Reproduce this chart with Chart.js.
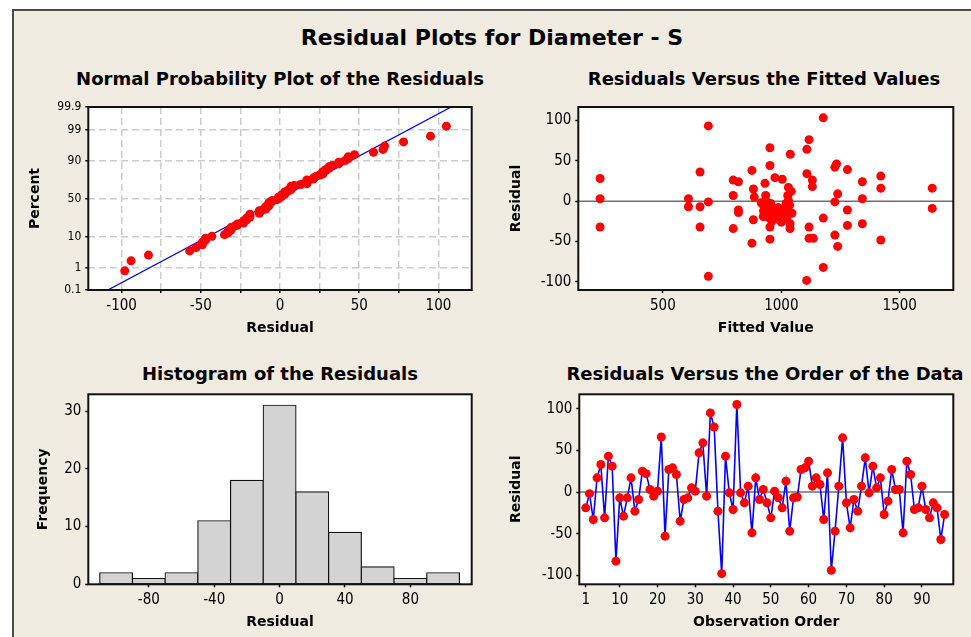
<!DOCTYPE html>
<html>
<head>
<meta charset="utf-8">
<script src="https://cdn.jsdelivr.net/npm/chart.js@4/dist/chart.umd.min.js"></script>
<style>
  body { margin:0; background:#fff; width:971px; height:637px; overflow:hidden; position:relative; }
  #frame { position:absolute; left:12px; top:9px; width:959px; height:628px; background:#efebe1;
           border-left:2px solid #4a4a4a; border-top:2px solid #4a4a4a; box-sizing:border-box; }
  #title { position:absolute; left:0; width:984px; top:23px; text-align:center;
           font:bold 22px 'DejaVu Sans', sans-serif; line-height:30px; color:#000; }
  .head { position:absolute; width:520px; text-align:center; white-space:nowrap;
          font:bold 18px 'DejaVu Sans', sans-serif; line-height:22px; color:#000; }
  canvas { position:absolute; }
</style>
</head>
<body>
<div id="frame"></div>
<div id="title">Residual Plots for Diameter - S</div>
<div class="head" style="left:20px;top:68px">Normal Probability Plot of the Residuals</div>
<div class="head" style="left:504px;top:68px">Residuals Versus the Fitted Values</div>
<div class="head" style="left:20px;top:363px">Histogram of the Residuals</div>
<div class="head" style="left:505px;top:363px">Residuals Versus the Order of the Data</div>
<canvas id="prob" style="left:0;top:55px" width="490" height="290"></canvas>
<canvas id="fits" style="left:490px;top:55px" width="481" height="290"></canvas>
<canvas id="hist" style="left:0;top:345px" width="490" height="292"></canvas>
<canvas id="order" style="left:490px;top:345px" width="481" height="292"></canvas>
<script>
// residuals in observation order
const residuals = [-19, -2, -33, 17, 33, -31, 43, 31, -83, -7,
  -29, -7, 17, -23, -9, 25, 22, 3, -5, 1,
  66, -53, 27, 29, 21, -35, -9, -7, 5, 1,
  47, 59, -5, 95, 78, -23, -98, 43, -1, -21,
  105, -1, -13, 7, -49, 17, -9, 3, -13, -31,
  1, -7, -19, 13, -47, -7, -6, 27, 29, 37,
  7, 17, 9, -33, 23, -94, -47, 7, 65, -13,
  -43, -9, -23, 7, 41, -1, 31, 5, 17, -27,
  -11, 27, 3, 3, -49, 37, 21, -21, -19, 7,
  -21, -31, -13, -19, -57, -27];

// versus fits panel, read point by point
const fittedValues = [235, 235, 235, 608, 608, 657, 657, 657, 692, 692, 692,
  797, 819, 797, 819, 819, 797, 876, 882, 886, 882, 876,
  952, 952, 1038, 973, 1004, 931, 1030, 1027, 1030, 934, 934, 924, 938, 945, 966, 987, 1016, 1027,
  924, 945, 973, 1002, 1023, 1037, 1037, 952, 952,
  1177, 1117, 1108, 1108, 1131, 1131, 1117, 1117, 1135, 1177, 1177, 1107,
  1233, 1226, 1238, 1226, 1226, 1238, 1279, 1279, 1279, 1342, 1342, 1342,
  1420, 1420, 1420, 1637, 1637,
  915, 1045, 1042, 1020, 995, 960, 985, 940, 1000, 1035, 925, 955, 1012, 970];
const fittedResiduals = [28, 3, -32, 3, -7, 36, -7, -32, 93, -1, -93,
  26, 24, 7, -11, -14, -34, 38, 15, 5, -23, -52,
  66, 44, 58, 29, 27, 22, 17, 7, 1, 7, 1, -5, -8, -13, -9, -8, -8, -12,
  -19, -20, -20, -17, -21, -28, -34, -32, -47,
  103, 76, 64, 34, 26, 18, -32, -46, -46, -21, -82, -98,
  46, 42, 9, -1, -42, -56, 39, -11, -30, 24, 3, -28,
  31, 16, -48, 16, -9,
  -2, -15, 12, -3, -14, -25, -22, -2, -26, -5, -12, -3, -20, -14];

const histCenters = [-100, -80, -60, -40, -20, 0, 20, 40, 60, 80, 100];
const histCounts = [2, 1, 2, 11, 18, 31, 16, 9, 3, 1, 2];

const probTicks = [0.1, 1, 10, 50, 90, 99, 99.9];
const probResidTicks = [-100, -75, -50, -25, 0, 25, 50, 75, 100];
const residTicks = [-100, -50, 0, 50, 100];
const fittedTicks = [500, 1000, 1500];
const histTicks = [-80, -40, 0, 40, 80];
const freqTicks = [0, 10, 20, 30];
const orderTicks = [1, 10, 20, 30, 40, 50, 60, 70, 80, 90];

// inverse normal cdf (Acklam)
function normInv(p) {
  const a = [-3.969683028665376e+01, 2.209460984245205e+02, -2.759285104469687e+02, 1.383577518672690e+02, -3.066479806614716e+01, 2.506628277459239e+00];
  const b = [-5.447609879822406e+01, 1.615858368580409e+02, -1.556989798598866e+02, 6.680131188771972e+01, -1.328068155288572e+01];
  const c = [-7.784894002430293e-03, -3.223964580411365e-01, -2.400758277161838e+00, -2.549732539343734e+00, 4.374664141464968e+00, 2.938163982698783e+00];
  const d = [7.784695709041462e-03, 3.224671290700398e-01, 2.445134137142996e+00, 3.754408661907416e+00];
  let q, r;
  if (p < 0.02425) {
    q = Math.sqrt(-2 * Math.log(p));
    return (((((c[0]*q+c[1])*q+c[2])*q+c[3])*q+c[4])*q+c[5]) / ((((d[0]*q+d[1])*q+d[2])*q+d[3])*q+1);
  }
  if (p > 1 - 0.02425) {
    q = Math.sqrt(-2 * Math.log(1 - p));
    return -(((((c[0]*q+c[1])*q+c[2])*q+c[3])*q+c[4])*q+c[5]) / ((((d[0]*q+d[1])*q+d[2])*q+d[3])*q+1);
  }
  q = p - 0.5; r = q * q;
  return (((((a[0]*r+a[1])*r+a[2])*r+a[3])*r+a[4])*r+a[5])*q / (((((b[0]*r+b[1])*r+b[2])*r+b[3])*r+b[4])*r+1);
}

const n = residuals.length;
const sorted = residuals.slice().sort((a, b) => a - b);
const probPoints = sorted.map((r, i) => ({x: r, y: normInv((i + 1 - 0.3) / (n + 0.4))}));
const mean = residuals.reduce((s, v) => s + v, 0) / n;
const sd = Math.sqrt(residuals.reduce((s, v) => s + (v - mean) ** 2, 0) / (n - 1));
const zLo = normInv(0.001), zHi = normInv(0.999);

const RED = '#ff0000', BLUE = '#0000ff';
const tickFont = {family: "'DejaVu Sans Condensed', 'DejaVu Sans', sans-serif", size: 15};
const labelFont = {family: "'DejaVu Sans', sans-serif", size: 14, weight: 'bold'};

// white plot area + black box
const framePlugin = {
  id: 'frame',
  beforeDraw(chart) {
    const a = chart.chartArea, ctx = chart.ctx;
    ctx.save();
    ctx.fillStyle = '#fff';
    ctx.fillRect(a.left, a.top, a.right - a.left, a.bottom - a.top);
    ctx.restore();
  },
  afterDraw(chart) {
    const a = chart.chartArea, ctx = chart.ctx;
    ctx.save();
    ctx.strokeStyle = '#111';
    ctx.lineWidth = 2;
    ctx.strokeRect(a.left, a.top, a.right - a.left, a.bottom - a.top);
    ctx.restore();
  }
};

function plainGrid() {
  return {drawOnChartArea: false, drawTicks: true, tickLength: 3, tickColor: '#000', tickWidth: 1.5, offset: false};
}

function xAxis(min, max, ticks, title, height, padBottom) {
  return {
    type: 'linear', min: min, max: max, offset: false,
    afterBuildTicks: s => { s.ticks = ticks.map(v => ({value: v})); },
    afterFit: s => { s.height = height; },
    ticks: {font: tickFont, color: '#000', padding: 4, autoSkip: false, maxRotation: 0, minRotation: 0,
            callback: v => String(v)},
    grid: plainGrid(),
    border: {display: false},
    title: {display: true, text: title, font: labelFont, color: '#000', padding: {top: 0, bottom: padBottom}}
  };
}

function yAxis(min, max, ticks, title, width, padTop) {
  return {
    type: 'linear', min: min, max: max,
    afterBuildTicks: s => { s.ticks = ticks.map(v => ({value: v})); },
    afterFit: s => { s.width = width; },
    ticks: {font: tickFont, color: '#000', padding: 4, autoSkip: false, callback: v => String(v)},
    grid: plainGrid(),
    border: {display: false},
    title: {display: true, text: title, font: labelFont, color: '#000', padding: {top: padTop, bottom: 0}}
  };
}

function baseOptions(topPad, rightPad, scales) {
  return {
    responsive: false,
    animation: false,
    layout: {padding: {left: 0, right: rightPad, top: topPad, bottom: 0}},
    plugins: {legend: {display: false}, tooltip: {enabled: false}},
    scales: scales
  };
}

// normal probability plot
const probX = xAxis(-121, 121, probResidTicks, 'Residual', 55, 8.3);
probX.ticks.callback = v => (v % 50 === 0 ? String(v) : '');
probX.grid = {drawOnChartArea: true, color: '#cccccc', lineWidth: 1.5, drawTicks: true, tickLength: 3,
              tickColor: '#000', tickWidth: 1.5, offset: false};
probX.border = {display: false, dash: [7, 4]};
const probY = yAxis(zLo, zHi, probTicks.map(p => normInv(p / 100)), 'Percent', 88.3, 26.6);
probY.ticks.font = {family: tickFont.family, size: 12};
probY.ticks.callback = (v, i) => String(probTicks[i]);
probY.grid = {drawOnChartArea: true, color: '#cccccc', lineWidth: 1.5, drawTicks: true, tickLength: 3,
              tickColor: '#000', tickWidth: 1.5};
probY.border = {display: false, dash: [7, 4]};

new Chart(document.getElementById('prob'), {
  type: 'scatter',
  data: {datasets: [
    {data: probPoints, pointRadius: 4.5, pointBackgroundColor: RED, pointBorderWidth: 0},
    {data: [{x: mean + sd * zLo, y: zLo}, {x: mean + sd * zHi, y: zHi}], showLine: true,
     borderColor: BLUE, borderWidth: 1.3, pointRadius: 0}
  ]},
  options: baseOptions(52, 18.3, {x: probX, y: probY}),
  plugins: [framePlugin]
});

// versus fits
new Chart(document.getElementById('fits'), {
  type: 'scatter',
  data: {datasets: [
    {data: fittedValues.map((f, i) => ({x: f, y: fittedResiduals[i]})),
     pointRadius: 4.5, pointBackgroundColor: RED, pointBorderWidth: 0},
    {data: [{x: 143, y: 0}, {x: 1726, y: 0}], showLine: true, borderColor: '#6e6e6e', borderWidth: 1.5, pointRadius: 0}
  ]},
  options: baseOptions(52, 17.7, {
    x: xAxis(143, 1726, fittedTicks, 'Fitted Value', 55, 8.3),
    y: yAxis(-109.9, 116.4, residTicks, 'Residual', 88.3, 18.3)
  }),
  plugins: [framePlugin]
});

// histogram
new Chart(document.getElementById('hist'), {
  type: 'bar',
  data: {datasets: [{
    data: histCenters.map((c, i) => ({x: c, y: histCounts[i]})),
    backgroundColor: '#d3d3d3', borderColor: '#111', borderWidth: 1.2, borderSkipped: false,
    inflateAmount: 0.6, barPercentage: 1, categoryPercentage: 1
  }]},
  options: baseOptions(49.3, 18.3, {
    x: xAxis(-117, 117.5, histTicks, 'Residual', 52.7, 5.9),
    y: yAxis(0, 32.9, freqTicks, 'Frequency', 88.3, 34.9)
  }),
  plugins: [framePlugin]
});

// versus order
new Chart(document.getElementById('order'), {
  type: 'scatter',
  data: {datasets: [
    {data: residuals.map((r, i) => ({x: i + 1, y: r})), showLine: true, borderColor: BLUE, borderWidth: 1.6,
     pointRadius: 4.5, pointBackgroundColor: RED, pointBorderWidth: 0},
    {data: [{x: -0.7, y: 0}, {x: 98.3, y: 0}], showLine: true, borderColor: '#6e6e6e', borderWidth: 1.5, pointRadius: 0}
  ]},
  options: baseOptions(49.3, 17.7, {
    x: xAxis(-0.7, 98.3, orderTicks, 'Observation Order', 52.7, 5.9),
    y: yAxis(-110.8, 117.3, residTicks, 'Residual', 89.3, 17.6)
  }),
  plugins: [framePlugin]
});
</script>
</body>
</html>
